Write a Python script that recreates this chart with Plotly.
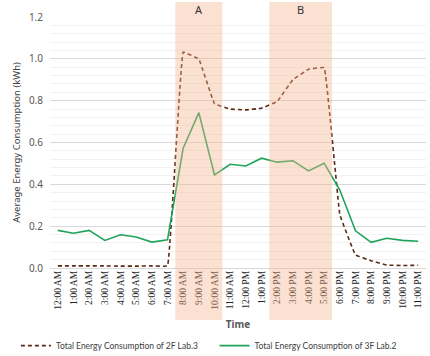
import plotly.graph_objects as go

times = ["12:00 AM", "1:00 AM", "2:00 AM", "3:00 AM", "4:00 AM", "5:00 AM", "6:00 AM", "7:00 AM",
         "8:00 AM", "9:00 AM", "10:00 AM", "11:00 AM", "12:00 PM", "1:00 PM", "2:00 PM", "3:00 PM",
         "4:00 PM", "5:00 PM", "6:00 PM", "7:00 PM", "8:00 PM", "9:00 PM", "10:00 PM", "11:00 PM"]

lab3_2f = [0.010, 0.010, 0.010, 0.010, 0.009, 0.009, 0.010, 0.010,
           1.032, 0.999, 0.785, 0.760, 0.756, 0.764, 0.796, 0.900,
           0.950, 0.958, 0.255, 0.062, 0.035, 0.014, 0.012, 0.013]

lab2_3f = [0.180, 0.166, 0.180, 0.132, 0.159, 0.148, 0.124, 0.135,
           0.573, 0.743, 0.445, 0.496, 0.488, 0.525, 0.506, 0.513,
           0.464, 0.501, 0.373, 0.178, 0.123, 0.142, 0.132, 0.128]

series_names = ["Total Energy Consumption of 2F Lab.3", "Total Energy Consumption of 3F Lab.2"]
zones = [("A", "8:00 AM", "10:00 AM"), ("B", "2:00 PM", "5:00 PM")]

fig = go.Figure()
fig.add_trace(go.Scatter(x=list(range(len(times))), y=lab3_2f, mode="lines", name=series_names[0],
                         legend="legend",
                         line=dict(color="#5b2a14", width=1.6, dash="4px,3px", shape="spline", smoothing=0.15)))
fig.add_trace(go.Scatter(x=list(range(len(times))), y=lab2_3f, mode="lines", name=series_names[1],
                         legend="legend2",
                         line=dict(color="#1fa35a", width=1.6)))

for label, start, end in zones:
    i0, i1 = times.index(start), times.index(end)
    fig.add_shape(type="rect", xref="x", yref="paper", x0=i0 - 0.5, x1=i1 + 0.5,
                  y0=-0.207, y1=1.06, fillcolor="rgba(245,180,140,0.40)", line=dict(width=0),
                  layer="above")
    fig.add_annotation(x=(i0 + i1) / 2, y=1.028, xref="x", yref="paper", text=label,
                       yanchor="middle", showarrow=False,
                       font=dict(family="Noto Sans", size=11, color="#333333"))

legend_style = dict(orientation="h", xref="container", xanchor="left",
                    y=0.07, yref="container", yanchor="top",
                    font=dict(family="Lato", size=8.5, color="#404040"),
                    itemwidth=30, bgcolor="rgba(0,0,0,0)")

fig.update_layout(
    width=430, height=356,
    margin=dict(l=50, r=4, t=17, b=88),
    plot_bgcolor="white", paper_bgcolor="white",
    showlegend=True,
    legend=dict(x=0.037, **legend_style),
    legend2=dict(x=0.499, **legend_style),
    xaxis=dict(range=[-0.5, len(times) - 0.5], tickmode="array", automargin=False,
               tickvals=list(range(len(times))), ticktext=times, tickangle=-90,
               tickfont=dict(family="Liberation Serif", size=9.5, color="#262626"),
               showgrid=False, zeroline=False, showline=False, ticks="",
               title=dict(text="<b>Time</b>", font=dict(family="Noto Sans", size=10, color="#595959"),
                          standoff=15)),
    yaxis=dict(range=[0, 1.2], dtick=0.2, tickformat=".1f", automargin=False,
               tickfont=dict(family="Noto Sans", size=10, color="#595959"),
               showgrid=True, gridcolor="#d9d9d9", gridwidth=1, zeroline=True,
               zerolinecolor="#d9d9d9", zerolinewidth=1, ticks="", ticklabelstandoff=6,
               minor=dict(dtick=0.04, showgrid=True, gridcolor="#f2f2f2", gridwidth=1),
               title=dict(text="Average Energy Consumption (kWh)",
                          font=dict(family="Noto Sans", size=9.5, color="#404040"), standoff=6)),
)

fig.write_html("out.html", config={"displayModeBar": False},
               post_script="document.body.style.margin='0';document.body.style.overflow='hidden';")
